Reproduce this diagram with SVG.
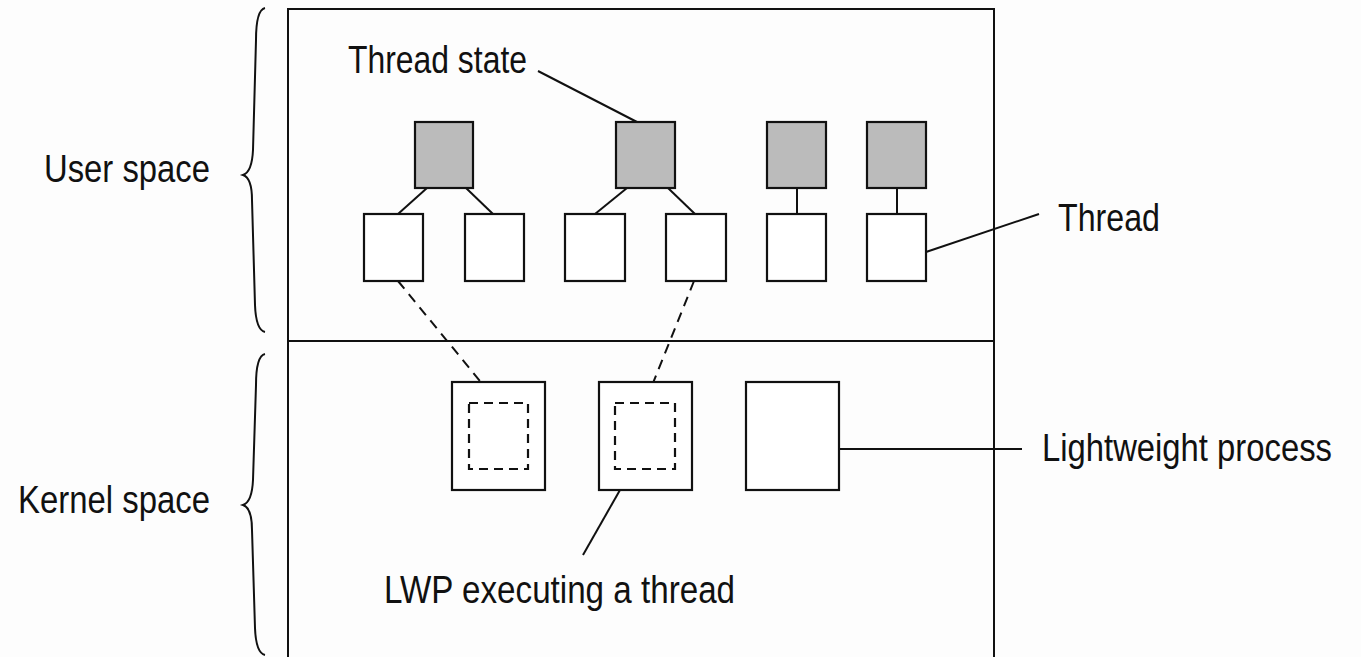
<svg xmlns="http://www.w3.org/2000/svg" width="1361" height="657" viewBox="0 0 1361 657">
<style>
.box{fill:#ffffff;stroke:#111;stroke-width:2.2}
.state{fill:#bbbbbb;stroke:#111;stroke-width:2.2}
.dbox{fill:none;stroke:#111;stroke-width:2.2;stroke-dasharray:9,6}
.ln{fill:none;stroke:#111;stroke-width:2}
.dl{fill:none;stroke:#111;stroke-width:2;stroke-dasharray:10,7}
.lbl{font-family:"Liberation Sans",Arial,Helvetica,sans-serif;font-size:39px;fill:#111}
</style>
<rect x="0" y="0" width="1361" height="657" fill="#fdfdfd"/>
<g id="frame">
<path class="ln" d="M288,657 L288,9 L994,9 L994,657"/>
<line class="ln" x1="288" y1="341" x2="994" y2="341"/>
</g>
<g id="braces">
<path class="ln" d="M265,8 Q256,10 256,40 L253,150 Q252,172 243,175 Q252,178 252,200 L255,305 Q256,330 265,332" stroke-width="1.8"/>
<path class="ln" d="M265,354 Q256,356 256,385 L253,480 Q252,502 243,505 Q252,508 252,530 L255,628 Q256,653 265,655" stroke-width="1.8"/>
</g>
<g id="connectors">
<line class="ln" x1="427" y1="188" x2="398" y2="214"/>
<line class="ln" x1="466" y1="188" x2="493" y2="214"/>
<line class="ln" x1="627" y1="188" x2="595" y2="214"/>
<line class="ln" x1="668" y1="188" x2="695" y2="214"/>
<line class="ln" x1="797" y1="188" x2="797" y2="214"/>
<line class="ln" x1="897" y1="188" x2="897" y2="214"/>
<line class="dl" x1="398" y1="281" x2="498" y2="403"/>
<line class="dl" x1="694" y1="281" x2="645" y2="403"/>
<line class="ln" x1="538" y1="71" x2="637" y2="122"/>
<line class="ln" x1="926" y1="252" x2="1039" y2="214"/>
<line class="ln" x1="839" y1="449" x2="1022" y2="449"/>
<line class="ln" x1="620" y1="490" x2="583" y2="555"/>
</g>
<g id="thread-states">
<rect class="state" x="415" y="122" width="58" height="66"/>
<rect class="state" x="616" y="122" width="59" height="66"/>
<rect class="state" x="767" y="122" width="59" height="66"/>
<rect class="state" x="867" y="122" width="59" height="66"/>
</g>
<g id="threads">
<rect class="box" x="364" y="214" width="59" height="67"/>
<rect class="box" x="465" y="214" width="59" height="67"/>
<rect class="box" x="565" y="214" width="60" height="67"/>
<rect class="box" x="666" y="214" width="60" height="67"/>
<rect class="box" x="767" y="214" width="59" height="67"/>
<rect class="box" x="867" y="214" width="59" height="67"/>
</g>
<g id="lwp1">
<rect class="box" x="452" y="382" width="93" height="108"/>
<rect class="dbox" x="469" y="403" width="59" height="66"/>
</g>
<g id="lwp2">
<rect class="box" x="599" y="382" width="93" height="108"/>
<rect class="dbox" x="615" y="403" width="60" height="66"/>
</g>
<g id="lwp3">
<rect class="box" x="746" y="382" width="93" height="108"/>
</g>
<g id="labels">
<text class="lbl" transform="translate(44,182) scale(0.84,1)" textLength="197.6" lengthAdjust="spacingAndGlyphs">User space</text>
<text class="lbl" transform="translate(18,513) scale(0.84,1)" textLength="228.6" lengthAdjust="spacingAndGlyphs">Kernel space</text>
<text class="lbl" transform="translate(348,73) scale(0.84,1)" textLength="213.1" lengthAdjust="spacingAndGlyphs">Thread state</text>
<text class="lbl" transform="translate(1058,231) scale(0.84,1)" textLength="121.4" lengthAdjust="spacingAndGlyphs">Thread</text>
<text class="lbl" transform="translate(1042,461) scale(0.84,1)" textLength="345.2" lengthAdjust="spacingAndGlyphs">Lightweight process</text>
<text class="lbl" transform="translate(384,603) scale(0.84,1)" textLength="417.9" lengthAdjust="spacingAndGlyphs">LWP executing a thread</text>
</g>
</svg>
